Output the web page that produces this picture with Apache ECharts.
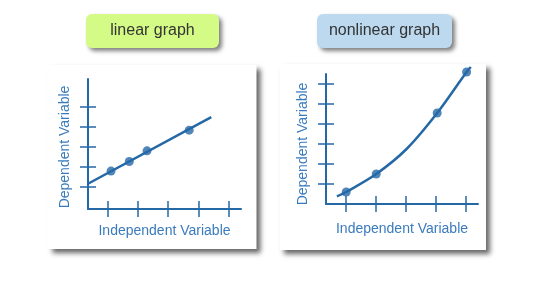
<!DOCTYPE html>
<html>
<head>
<meta charset="utf-8">
<script src="https://cdn.jsdelivr.net/npm/echarts@6/dist/echarts.min.js"></script>
<style>html,body{margin:0;padding:0;background:#fff}#c{width:548px;height:281px}</style>
</head>
<body>
<div id="c"></div>
<script>
// ---- data ----
var titles = ['linear graph', 'nonlinear graph'];
var xAxisName = 'Independent Variable';
var yAxisName = 'Dependent Variable';
var tickValuesX = [1, 2, 3, 4, 5];
var tickValuesYLinear = [1, 2, 3, 4, 5];
var tickValuesYNonlinear = [1, 2, 3, 4, 5, 6];
var linearLine = [[0.355, 1.165], [4.43, 4.5]];
var linearPoints = [[1.116, 1.8], [1.72, 2.28], [2.306, 2.815], [3.70, 3.85]];
var nonlinearCurve = [[0.70, 0.38], [1.01, 0.6], [2.01, 1.5], [3.02, 2.75], [4.04, 4.55], [5.02, 6.6], [5.16, 6.85]];
var nonlinearPoints = [[1.01, 0.6], [2.01, 1.5], [4.04, 4.55], [5.02, 6.6]];

var BLUE = '#2568a6';
var TXT = '#3a7bbd';
var FONT = 'Liberation Sans, Arial, sans-serif';

function xAx(grid, min, max, inside, named, gap) {
  return {
    type: 'value', gridIndex: grid, position: 'bottom', offset: 0, min: min, max: max,
    splitLine: {show: false},
    axisLine: {show: !inside, onZero: false, lineStyle: {color: BLUE, width: 2}},
    axisTick: {show: true, inside: inside, length: 8, customValues: tickValuesX, lineStyle: {color: BLUE, width: 1.5}},
    axisLabel: {show: false},
    name: named ? xAxisName : '', nameLocation: 'middle', nameGap: gap,
    nameTextStyle: {color: TXT, fontSize: 14, fontFamily: FONT, verticalAlign: 'top'}
  };
}
function yAx(grid, min, max, ticks, inside, named, shift) {
  return {
    type: 'value', gridIndex: grid, position: 'left', offset: 0, min: min, max: max,
    splitLine: {show: false},
    axisLine: {show: !inside, onZero: false, lineStyle: {color: BLUE, width: 2}},
    axisTick: {show: true, inside: inside, length: 8, customValues: ticks, lineStyle: {color: BLUE, width: 1.5}},
    axisLabel: {show: false},
    name: named ? yAxisName : '', nameLocation: 'middle', nameGap: 16,
    nameTextStyle: {color: TXT, fontSize: 14, fontFamily: FONT, padding: [0, shift || 0, 0, 0]}
  };
}

var chart = echarts.init(document.getElementById('c'), null, {renderer: 'canvas'});
chart.setOption({
  animation: false,
  backgroundColor: '#fff',
  grid: [
    {left: 88, top: 79, width: 153, height: 130},
    {left: 326, top: 74, width: 152, height: 130}
  ],
  xAxis: [
    xAx(0, 0.355, 5.413, false, true, 15), xAx(0, 0.355, 5.413, true, false, 15),
    xAx(1, 0.337, 5.4, false, true, 18), xAx(1, 0.337, 5.4, true, false, 18)
  ],
  yAxis: [
    yAx(0, -0.1, 6.415, tickValuesYLinear, false, true, 6), yAx(0, -0.1, 6.415, tickValuesYLinear, true, false),
    yAx(1, 0, 6.5, tickValuesYNonlinear, false, true, 10), yAx(1, 0, 6.5, tickValuesYNonlinear, true, false)
  ],
  graphic: [
    {type: 'rect', z: -10, shape: {x: 47.5, y: 65, width: 209, height: 184},
     style: {fill: '#fff', shadowBlur: 5, shadowOffsetX: 4, shadowOffsetY: 4, shadowColor: 'rgba(0,0,0,0.6)'}},
    {type: 'rect', z: -10, shape: {x: 280, y: 64, width: 206, height: 186},
     style: {fill: '#fff', shadowBlur: 5, shadowOffsetX: 4, shadowOffsetY: 4, shadowColor: 'rgba(0,0,0,0.6)'}},
    {type: 'rect', z: -10, shape: {x: 86, y: 14, width: 133, height: 34, r: 6},
     style: {fill: '#d5fb87', shadowBlur: 4, shadowOffsetX: 3, shadowOffsetY: 3, shadowColor: 'rgba(0,0,0,0.5)'}},
    {type: 'rect', z: -10, shape: {x: 317, y: 14, width: 135, height: 34, r: 6},
     style: {fill: '#bcd9ef', shadowBlur: 4, shadowOffsetX: 3, shadowOffsetY: 3, shadowColor: 'rgba(0,0,0,0.5)'}},
    {type: 'text', x: 152.5, y: 31, style: {text: titles[0], fill: '#333', font: '16px ' + FONT, align: 'center', verticalAlign: 'middle'}},
    {type: 'text', x: 384.5, y: 31, style: {text: titles[1], fill: '#333', font: '16px ' + FONT, align: 'center', verticalAlign: 'middle'}}
  ],
  series: [
    {type: 'line', xAxisIndex: 0, yAxisIndex: 0, data: linearLine, showSymbol: false, clip: false, lineStyle: {color: BLUE, width: 2.5}},
    {type: 'scatter', xAxisIndex: 0, yAxisIndex: 0, data: linearPoints, symbolSize: 9, clip: false, itemStyle: {color: BLUE}},
    {type: 'line', xAxisIndex: 2, yAxisIndex: 2, data: nonlinearCurve, smooth: 0.3, showSymbol: false, clip: false, lineStyle: {color: BLUE, width: 2.5}},
    {type: 'scatter', xAxisIndex: 2, yAxisIndex: 2, data: nonlinearPoints, symbolSize: 9, clip: false, itemStyle: {color: BLUE}}
  ]
});
</script>
</body>
</html>
